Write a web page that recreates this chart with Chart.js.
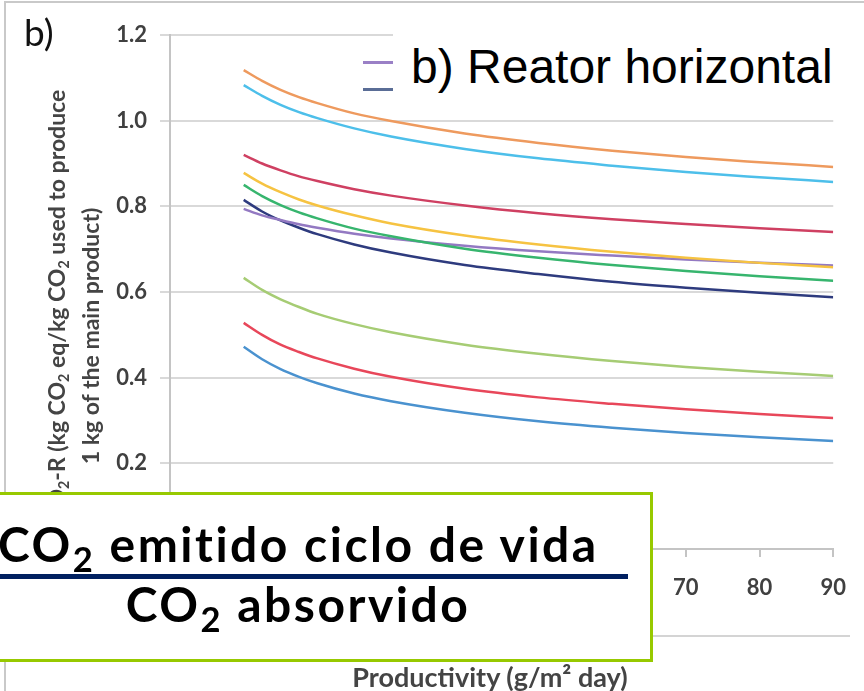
<!DOCTYPE html>
<html>
<head>
<meta charset="utf-8">
<script src="https://cdn.jsdelivr.net/npm/chart.js@4.4.1/dist/chart.umd.min.js"></script>
<style>
  html, body { margin: 0; padding: 0; background: #fff; }
  #wrap { position: relative; width: 864px; height: 691px; overflow: hidden; background: #fff; }
  #graphCanvas { position: absolute; left: 0; top: 0; }
  .frame { position: absolute; left: 4px; top: 1px; width: 870px; height: 700px; border-left: 2px solid #c9c9c9; border-top: 2px solid #c9c9c9; }
  .panel { position: absolute; left: 24px; top: 11px; font: 37px Lato, sans-serif; line-height: 42px; color: #111; }
  .ytitle { position: absolute; left: -228px; top: 305px; width: 600px; height: 62px; transform: rotate(-90deg);
            font: bold 23px Lato, sans-serif; line-height: 31px; color: #444; text-align: center; white-space: nowrap; }
  .xtitle { position: absolute; left: 290px; top: 663px; width: 400px; text-align: center;
            font: bold 27px Lato, sans-serif; line-height: 28px; color: #444; white-space: nowrap; }
  .ysub { font-size: 0.62em; position: relative; top: 0.25em; }
  .legendStub { position: absolute; left: 363px; width: 30px; height: 3px; }
  .titleBox { position: absolute; left: 393px; top: 26px; width: 480px; height: 72px; background: #fff; }
  .titleText { position: absolute; left: 411px; top: 43px; font: 48px "Liberation Sans", Arial, sans-serif; line-height: 48px; color: #000; white-space: nowrap; }
  .bottomLine { position: absolute; left: 650px; top: 635px; width: 200px; height: 2px; background: #d4d4d4; }
  .formula { position: absolute; left: -4px; top: 492px; width: 651px; height: 164px; border: 3px solid #97c900; background: #fff; }
  .fracLine { position: absolute; left: 0; top: 574px; width: 628px; height: 5px; background: #002060; }
  .num, .den { position: absolute; left: -2px; width: 600px; text-align: center; font: bold 48px Lato, sans-serif; line-height: 48px;
               letter-spacing: 2.5px; color: #000; white-space: nowrap; }
  .num { top: 520px; }
  .den { top: 580px; }
  .sub { font-size: 0.72em; position: relative; top: 0.28em; }
</style>
</head>
<body>
<div id="wrap">
  <canvas id="graphCanvas" width="864" height="691"></canvas>
  <div class="frame"></div>
  <div class="panel">b)</div>
  <div class="ytitle">GWP CO<span class="ysub">2</span>-R (kg CO<span class="ysub">2</span> eq/kg CO<span class="ysub">2</span> used to produce<br>1 kg of the main product)</div>
  <div class="xtitle">Productivity (g/m² day)</div>
  <div class="bottomLine"></div>
  <div class="legendStub" style="top:61px;background:#9a80c6;"></div>
  <div class="legendStub" style="top:88px;background:#5a6d96;"></div>
  <div class="titleBox"></div>
  <div class="titleText">b) Reator horizontal</div>
  <div class="formula"></div>
  <div class="num">CO<span class="sub">2</span> emitido ciclo de vida</div>
  <div class="fracLine"></div>
  <div class="den">CO<span class="sub">2</span> absorvido</div>
</div>
<script>
// productivity (g/m2 day) where the curves were read
var productivity = [10, 12.5, 15, 17.5, 20, 25, 30, 40, 50, 60, 70, 80, 90];

// kg CO2 eq per kg CO2 used
var seriesOrange  = [1.118, 1.093, 1.072, 1.055, 1.041, 1.017, 0.999, 0.970, 0.948, 0.930, 0.915, 0.903, 0.892];
var seriesSky     = [1.083, 1.058, 1.037, 1.020, 1.006, 0.982, 0.963, 0.934, 0.912, 0.895, 0.880, 0.868, 0.857];
var seriesCrimson = [0.920, 0.900, 0.884, 0.870, 0.859, 0.840, 0.825, 0.802, 0.784, 0.770, 0.759, 0.749, 0.740];
var seriesGold    = [0.878, 0.853, 0.833, 0.816, 0.802, 0.779, 0.760, 0.732, 0.711, 0.694, 0.680, 0.668, 0.658];
var seriesGreen   = [0.850, 0.824, 0.803, 0.786, 0.772, 0.748, 0.730, 0.701, 0.680, 0.663, 0.649, 0.637, 0.626];
var seriesPurple  = [0.794, 0.779, 0.768, 0.758, 0.750, 0.736, 0.725, 0.708, 0.695, 0.685, 0.676, 0.668, 0.662];
var seriesNavy    = [0.815, 0.788, 0.767, 0.750, 0.735, 0.711, 0.692, 0.663, 0.642, 0.624, 0.610, 0.598, 0.588];
var seriesLime    = [0.633, 0.605, 0.583, 0.565, 0.549, 0.525, 0.506, 0.477, 0.456, 0.439, 0.425, 0.414, 0.404];
var seriesRed     = [0.528, 0.500, 0.477, 0.460, 0.445, 0.421, 0.402, 0.374, 0.354, 0.339, 0.326, 0.315, 0.306];
var seriesBlue    = [0.472, 0.443, 0.420, 0.402, 0.387, 0.363, 0.345, 0.318, 0.298, 0.283, 0.271, 0.261, 0.252];

var xTicks = [0, 10, 20, 30, 40, 50, 60, 70, 80, 90];
var yTicks = [0, 0.2, 0.4, 0.6, 0.8, 1.0, 1.2];

function toPoints(values) {
    var pts = [];
    for (var i in values) {
        pts.push({ x: productivity[i], y: values[i] });
    }
    return pts;
}

function line(label, values, color) {
    return {
        label: label,
        data: toPoints(values),
        borderColor: color,
        borderWidth: 2.5,
        pointRadius: 0,
        fill: false,
        cubicInterpolationMode: 'monotone'
    };
}

var chartdata = {
    datasets: [
        line('Série 1', seriesOrange, '#ee9a5e'),
        line('Série 2', seriesSky, '#4dbfea'),
        line('Série 3', seriesCrimson, '#cf4062'),
        line('Série 4', seriesGold, '#f6c342'),
        line('Série 5', seriesGreen, '#37b56e'),
        line('Série 6', seriesPurple, '#9379c2'),
        line('Série 7', seriesNavy, '#2e3b7e'),
        line('Série 8', seriesLime, '#a6cc74'),
        line('Série 9', seriesRed, '#e8475a'),
        line('Série 10', seriesBlue, '#4a92cf')
    ]
};

var tickFont = { family: 'Lato', weight: 'bold', size: 22 };

new Chart(document.getElementById('graphCanvas'), {
    type: 'line',
    data: chartdata,
    options: {
        responsive: false,
        animation: false,
        devicePixelRatio: 1,
        layout: { padding: { left: 5, right: 14, top: 35, bottom: 0 } },
        plugins: { legend: { display: false }, tooltip: { enabled: false } },
        scales: {
            x: {
                type: 'linear',
                min: xTicks[0],
                max: xTicks[xTicks.length - 1],
                afterBuildTicks: function (axis) { axis.ticks = xTicks.map(function (v) { return { value: v }; }); },
                afterFit: function (axis) { axis.height = 142; },
                ticks: { font: tickFont, color: '#404040', padding: 18 },
                grid: { drawOnChartArea: false, tickLength: 8, color: '#c4c4c4', lineWidth: 2 },
                border: { color: '#c4c4c4', width: 2 }
            },
            y: {
                min: yTicks[0],
                max: yTicks[yTicks.length - 1],
                afterBuildTicks: function (axis) { axis.ticks = yTicks.map(function (v) { return { value: v }; }); },
                afterFit: function (axis) { axis.width = 165; },
                ticks: {
                    font: tickFont, color: '#404040', padding: 13,
                    callback: function (v) { return v.toFixed(1); }
                },
                grid: { color: '#d9d9d9', lineWidth: 2, tickLength: 10 },
                border: { color: '#c4c4c4', width: 2 }
            }
        }
    }
});
</script>
</body>
</html>
